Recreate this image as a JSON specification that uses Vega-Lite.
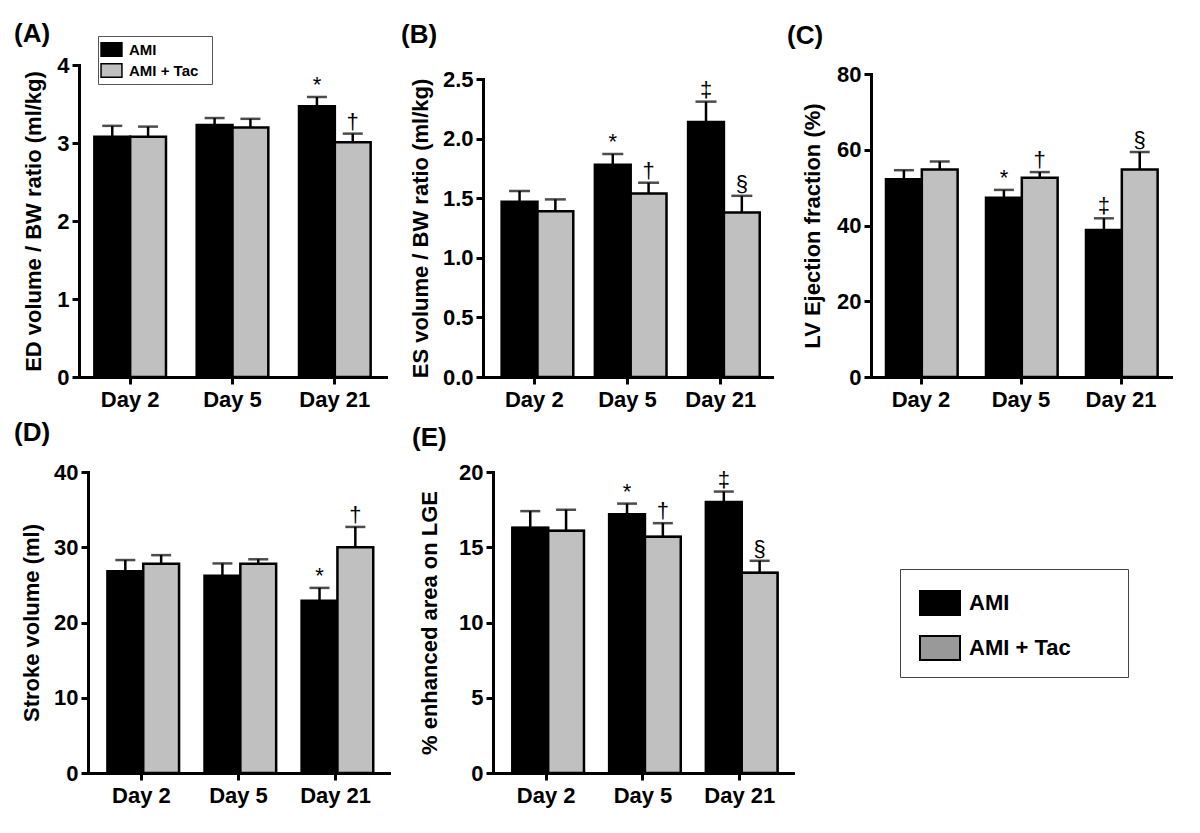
{
  "$schema": "https://vega.github.io/schema/vega-lite/v6.json",
  "padding": {"left": 14, "top": 20, "right": 5, "bottom": 5},
  "background": "white",
  "config": {
    "font": "Liberation Sans",
    "view": {"stroke": null},
    "axis": {
      "domainColor": "black", "domainWidth": 3, "domainCap": "square",
      "tickColor": "black", "tickWidth": 3, "tickSize": 7,
      "labelFontSize": 22, "labelFontWeight": "bold", "labelColor": "black",
      "titleFontSize": 22, "titleFontWeight": "bold", "titleColor": "black",
      "grid": false
    },
    "axisY": {"labelPadding": 3, "titlePadding": 10},
    "axisX": {"labelPadding": 5, "labelAngle": 0, "title": null},
    "title": {"fontSize": 26, "fontWeight": "bold", "color": "black", "anchor": "start", "frame": "group"}
  },
  "datasets": {
    "A": [
      {"day": "Day 2", "group": "AMI", "mean": 3.08, "upper": 3.22, "sig": ""},
      {"day": "Day 2", "group": "AMI + Tac", "mean": 3.08, "upper": 3.21, "sig": ""},
      {"day": "Day 5", "group": "AMI", "mean": 3.23, "upper": 3.32, "sig": ""},
      {"day": "Day 5", "group": "AMI + Tac", "mean": 3.20, "upper": 3.31, "sig": ""},
      {"day": "Day 21", "group": "AMI", "mean": 3.47, "upper": 3.59, "sig": "*"},
      {"day": "Day 21", "group": "AMI + Tac", "mean": 3.01, "upper": 3.12, "sig": "†"}
    ],
    "B": [
      {"day": "Day 2", "group": "AMI", "mean": 1.47, "upper": 1.56, "sig": ""},
      {"day": "Day 2", "group": "AMI + Tac", "mean": 1.39, "upper": 1.49, "sig": ""},
      {"day": "Day 5", "group": "AMI", "mean": 1.78, "upper": 1.87, "sig": "*"},
      {"day": "Day 5", "group": "AMI + Tac", "mean": 1.54, "upper": 1.63, "sig": "†"},
      {"day": "Day 21", "group": "AMI", "mean": 2.14, "upper": 2.31, "sig": "‡"},
      {"day": "Day 21", "group": "AMI + Tac", "mean": 1.38, "upper": 1.52, "sig": "§"}
    ],
    "C": [
      {"day": "Day 2", "group": "AMI", "mean": 52.2, "upper": 54.6, "sig": ""},
      {"day": "Day 2", "group": "AMI + Tac", "mean": 54.8, "upper": 56.9, "sig": ""},
      {"day": "Day 5", "group": "AMI", "mean": 47.3, "upper": 49.4, "sig": "*"},
      {"day": "Day 5", "group": "AMI + Tac", "mean": 52.6, "upper": 54.1, "sig": "†"},
      {"day": "Day 21", "group": "AMI", "mean": 38.8, "upper": 41.9, "sig": "‡"},
      {"day": "Day 21", "group": "AMI + Tac", "mean": 54.8, "upper": 59.4, "sig": "§"}
    ],
    "D": [
      {"day": "Day 2", "group": "AMI", "mean": 26.8, "upper": 28.3, "sig": ""},
      {"day": "Day 2", "group": "AMI + Tac", "mean": 27.8, "upper": 28.95, "sig": ""},
      {"day": "Day 5", "group": "AMI", "mean": 26.2, "upper": 27.85, "sig": ""},
      {"day": "Day 5", "group": "AMI + Tac", "mean": 27.8, "upper": 28.4, "sig": ""},
      {"day": "Day 21", "group": "AMI", "mean": 22.9, "upper": 24.6, "sig": "*"},
      {"day": "Day 21", "group": "AMI + Tac", "mean": 30.0, "upper": 32.7, "sig": "†"}
    ],
    "E": [
      {"day": "Day 2", "group": "AMI", "mean": 16.3, "upper": 17.4, "sig": ""},
      {"day": "Day 2", "group": "AMI + Tac", "mean": 16.1, "upper": 17.5, "sig": ""},
      {"day": "Day 5", "group": "AMI", "mean": 17.2, "upper": 17.9, "sig": "*"},
      {"day": "Day 5", "group": "AMI + Tac", "mean": 15.7, "upper": 16.6, "sig": "†"},
      {"day": "Day 21", "group": "AMI", "mean": 18.0, "upper": 18.7, "sig": "‡"},
      {"day": "Day 21", "group": "AMI + Tac", "mean": 13.3, "upper": 14.1, "sig": "§"}
    ]
  },
  "spacing": 10,
  "resolve": {"scale": {"fill": "independent", "color": "independent"}, "legend": {"fill": "independent", "color": "independent"}},
  "vconcat": [
    {
      "spacing": 15,
      "resolve": {"scale": {"fill": "independent", "color": "independent"}, "legend": {"fill": "independent", "color": "independent"}},
      "hconcat": [
        {
          "title": {"text": "(A)", "dy": 15, "dx": -65},
          "width": 307, "height": 312,
          "data": {"name": "A"},
          "encoding": {
            "x": {"field": "day", "type": "nominal", "sort": ["Day 2", "Day 5", "Day 21"], "scale": {"paddingInner": 0.3, "paddingOuter": 0.15}},
            "xOffset": {"field": "group", "type": "nominal", "sort": ["AMI", "AMI + Tac"], "scale": {"paddingInner": 0, "paddingOuter": 0}}
          },
          "layer": [
            {
              "mark": {"type": "bar", "stroke": "black", "strokeWidth": 2.5},
              "encoding": {
                "y": {"field": "mean", "type": "quantitative", "title": "ED volume / BW ratio (ml/kg)", "scale": {"domain": [0, 4]}, "axis": {"values": [0, 1, 2, 3, 4], "format": "d", "titlePadding": 11}},
                "fill": {"field": "group", "type": "nominal", "scale": {"domain": ["AMI", "AMI + Tac"], "range": ["#000000", "#c0c0c0"]},
                  "legend": {"orient": "none", "legendX": 19, "legendY": -29, "title": "\u00a0", "titleOrient": "right", "titleFontSize": 8, "titlePadding": 11, "symbolType": "M-1.1,-0.7H1.1V0.7H-1.1Z", "symbolSize": 361, "symbolStrokeColor": "black", "symbolStrokeWidth": 1.5, "labelFontSize": 15, "labelFontWeight": "bold", "labelColor": "black", "labelOffset": 7, "rowPadding": 0, "padding": 3, "strokeColor": "#555555"}}
              }
            },
            {
              "mark": {"type": "rule", "strokeWidth": 2.5, "color": "black"},
              "encoding": {"y": {"field": "mean", "type": "quantitative", "scale": {"domain": [0, 4]}}, "y2": {"field": "upper"}}
            },
            {
              "mark": {"type": "tick", "thickness": 2.5, "size": 20, "color": "black"},
              "encoding": {"y": {"field": "upper", "type": "quantitative", "scale": {"domain": [0, 4]}}}
            },
            {
              "mark": {"type": "text", "fontSize": 22, "dy": -5, "baseline": "alphabetic", "fill": "black"},
              "encoding": {"y": {"field": "upper", "type": "quantitative", "scale": {"domain": [0, 4]}}, "text": {"field": "sig"}}
            }
          ]
        },
        {
          "title": {"text": "(B)", "dy": -13, "dx": -82},
          "width": 289, "height": 312,
          "data": {"name": "B"},
          "encoding": {
            "x": {"field": "day", "type": "nominal", "sort": ["Day 2", "Day 5", "Day 21"], "scale": {"paddingInner": 0.3, "paddingOuter": 0.2}},
            "xOffset": {"field": "group", "type": "nominal", "sort": ["AMI", "AMI + Tac"], "scale": {"paddingInner": 0, "paddingOuter": 0}}
          },
          "layer": [
            {
              "mark": {"type": "bar", "stroke": "black", "strokeWidth": 2.5},
              "encoding": {
                "y": {"field": "mean", "type": "quantitative", "title": "ES volume / BW ratio (ml/kg)", "scale": {"domain": [0, 2.5], "range": [312, 14]}, "axis": {"values": [0, 0.5, 1, 1.5, 2, 2.5], "format": ".1f"}},
                "fill": {"field": "group", "type": "nominal", "scale": {"domain": ["AMI", "AMI + Tac"], "range": ["#000000", "#c0c0c0"]}, "legend": null}
              }
            },
            {
              "mark": {"type": "rule", "strokeWidth": 2.5, "color": "black"},
              "encoding": {"y": {"field": "mean", "type": "quantitative", "scale": {"domain": [0, 2.5], "range": [312, 14]}}, "y2": {"field": "upper"}}
            },
            {
              "mark": {"type": "tick", "thickness": 2.5, "size": 21, "color": "black"},
              "encoding": {"y": {"field": "upper", "type": "quantitative", "scale": {"domain": [0, 2.5], "range": [312, 14]}}}
            },
            {
              "mark": {"type": "text", "fontSize": 22, "dy": -5, "baseline": "alphabetic", "fill": "black"},
              "encoding": {"y": {"field": "upper", "type": "quantitative", "scale": {"domain": [0, 2.5], "range": [312, 14]}}, "text": {"field": "sig"}}
            }
          ]
        },
        {
          "title": {"text": "(C)", "dy": -10, "dx": -84},
          "width": 300, "height": 312,
          "data": {"name": "C"},
          "encoding": {
            "x": {"field": "day", "type": "nominal", "sort": ["Day 2", "Day 5", "Day 21"], "scale": {"paddingInner": 0.3, "paddingOuter": 0.15}},
            "xOffset": {"field": "group", "type": "nominal", "sort": ["AMI", "AMI + Tac"], "scale": {"paddingInner": 0, "paddingOuter": 0}}
          },
          "layer": [
            {
              "mark": {"type": "bar", "stroke": "black", "strokeWidth": 2.5},
              "encoding": {
                "y": {"field": "mean", "type": "quantitative", "title": "LV Ejection fraction (%)", "scale": {"domain": [0, 80], "range": [312, 9]}, "axis": {"values": [0, 20, 40, 60, 80], "format": "d", "titlePadding": 12}},
                "fill": {"field": "group", "type": "nominal", "scale": {"domain": ["AMI", "AMI + Tac"], "range": ["#000000", "#c0c0c0"]}, "legend": null}
              }
            },
            {
              "mark": {"type": "rule", "strokeWidth": 2.5, "color": "black"},
              "encoding": {"y": {"field": "mean", "type": "quantitative", "scale": {"domain": [0, 80], "range": [312, 9]}}, "y2": {"field": "upper"}}
            },
            {
              "mark": {"type": "tick", "thickness": 2.5, "size": 20, "color": "black"},
              "encoding": {"y": {"field": "upper", "type": "quantitative", "scale": {"domain": [0, 80], "range": [312, 9]}}}
            },
            {
              "mark": {"type": "text", "fontSize": 22, "dy": -5, "baseline": "alphabetic", "fill": "black"},
              "encoding": {"y": {"field": "upper", "type": "quantitative", "scale": {"domain": [0, 80], "range": [312, 9]}}, "text": {"field": "sig"}}
            }
          ]
        }
      ]
    },
    {
      "spacing": 23,
      "resolve": {"scale": {"fill": "independent", "color": "independent"}, "legend": {"fill": "independent", "color": "independent"}},
      "hconcat": [
        {
          "title": {"text": "(D)", "dy": -11, "dx": -65},
          "width": 310, "height": 301,
          "data": {"name": "D"},
          "encoding": {
            "x": {"field": "day", "type": "nominal", "sort": ["Day 2", "Day 5", "Day 21"], "scale": {"range": [9, 310], "paddingInner": 0.3, "paddingOuter": 0.2}},
            "xOffset": {"field": "group", "type": "nominal", "sort": ["AMI", "AMI + Tac"], "scale": {"paddingInner": 0, "paddingOuter": 0}}
          },
          "layer": [
            {
              "mark": {"type": "bar", "stroke": "black", "strokeWidth": 2.5},
              "encoding": {
                "y": {"field": "mean", "type": "quantitative", "title": "Stroke volume (ml)", "scale": {"domain": [0, 40]}, "axis": {"values": [0, 10, 20, 30, 40], "format": "d", "offset": -9}},
                "fill": {"field": "group", "type": "nominal", "scale": {"domain": ["AMI", "AMI + Tac"], "range": ["#000000", "#c0c0c0"]}, "legend": null}
              }
            },
            {
              "mark": {"type": "rule", "strokeWidth": 2.5, "color": "black"},
              "encoding": {"y": {"field": "mean", "type": "quantitative", "scale": {"domain": [0, 40]}}, "y2": {"field": "upper"}}
            },
            {
              "mark": {"type": "tick", "thickness": 2.5, "size": 20, "color": "black"},
              "encoding": {"y": {"field": "upper", "type": "quantitative", "scale": {"domain": [0, 40]}}}
            },
            {
              "mark": {"type": "text", "fontSize": 22, "dy": -5, "baseline": "alphabetic", "fill": "black"},
              "encoding": {"y": {"field": "upper", "type": "quantitative", "scale": {"domain": [0, 40]}}, "text": {"field": "sig"}}
            }
          ]
        },
        {
          "title": {"text": "(E)", "dy": -6, "dx": -81},
          "width": 300, "height": 301,
          "data": {"name": "E"},
          "encoding": {
            "x": {"field": "day", "type": "nominal", "sort": ["Day 2", "Day 5", "Day 21"], "scale": {"paddingInner": 0.3, "paddingOuter": 0.2}},
            "xOffset": {"field": "group", "type": "nominal", "sort": ["AMI", "AMI + Tac"], "scale": {"paddingInner": 0, "paddingOuter": 0}}
          },
          "layer": [
            {
              "mark": {"type": "bar", "stroke": "black", "strokeWidth": 2},
              "encoding": {
                "y": {"field": "mean", "type": "quantitative", "title": "% enhanced area on LGE", "scale": {"domain": [0, 20]}, "axis": {"values": [0, 5, 10, 15, 20], "format": "d", "titlePadding": 17}},
                "color": {"field": "group", "type": "nominal", "scale": {"domain": ["AMI", "AMI + Tac"], "range": ["#000000", "#999999"]},
                  "legend": {"orient": "none", "legendX": 407, "legendY": 97, "title": "\u00a0", "titleOrient": "right", "titlePadding": 44, "titleFontSize": 10, "symbolType": "M-1,-0.6H1V0.6H-1Z", "symbolSize": 1600, "symbolStrokeColor": "black", "symbolStrokeWidth": 2, "symbolOffset": 6, "labelFontSize": 22, "labelFontWeight": "bold", "labelColor": "black", "labelOffset": 8, "rowPadding": 8, "padding": 13, "strokeColor": "#444444"}}
              }
            },
            {
              "mark": {"type": "bar", "stroke": "black", "strokeWidth": 2.5},
              "encoding": {
                "y": {"field": "mean", "type": "quantitative", "scale": {"domain": [0, 20]}},
                "fill": {"field": "group", "type": "nominal", "scale": {"domain": ["AMI", "AMI + Tac"], "range": ["#000000", "#c0c0c0"]}, "legend": null}
              }
            },
            {
              "mark": {"type": "rule", "strokeWidth": 2.5, "color": "black"},
              "encoding": {"y": {"field": "mean", "type": "quantitative", "scale": {"domain": [0, 20]}}, "y2": {"field": "upper"}}
            },
            {
              "mark": {"type": "tick", "thickness": 2.5, "size": 20, "color": "black"},
              "encoding": {"y": {"field": "upper", "type": "quantitative", "scale": {"domain": [0, 20]}}}
            },
            {
              "mark": {"type": "text", "fontSize": 22, "dy": -5, "baseline": "alphabetic", "fill": "black"},
              "encoding": {"y": {"field": "upper", "type": "quantitative", "scale": {"domain": [0, 20]}}, "text": {"field": "sig"}}
            }
          ]
        }
      ]
    }
  ]
}
